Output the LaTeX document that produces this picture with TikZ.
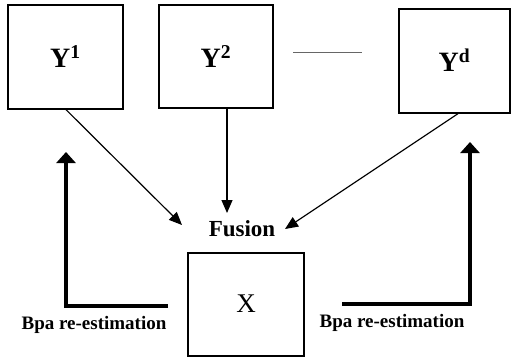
\documentclass[tikz,border=0pt]{standalone}
\usepackage{fontspec}
\setmainfont{Liberation Serif}
\usetikzlibrary{arrows.meta,calc}
\begin{document}
\begin{tikzpicture}[x=1pt,y=-1pt,
  boxnode/.style={draw,line width=1.3pt,inner sep=0pt},
  thinarrow/.style={line width=1.2pt,-{Triangle[length=13pt,width=11pt]}},
  thickarrow/.style={line width=4pt,-{Triangle[length=11pt,width=19pt]}},
  lbl/.style={font=\fontsize{19}{22}\selectfont\bfseries,inner sep=0pt}]
\useasboundingbox (0,0) rectangle (513,362);
\node[boxnode,minimum width=115pt,minimum height=104pt] (y1) at (65.5,57)
  {\fontsize{28}{32}\selectfont\bfseries Y$^{\mathbf{1}}$};
\node[boxnode,minimum width=114pt,minimum height=103pt] (y2) at (216,56.5)
  {\fontsize{28}{32}\selectfont\bfseries Y$^{\mathbf{2}}$};
\node[boxnode,minimum width=111pt,minimum height=104pt] (yd) at (454.5,61)
  {\raisebox{2pt}{\fontsize{28}{32}\selectfont\bfseries Y\textsuperscript{d}}};
\node[boxnode,minimum width=116pt,minimum height=103pt] (x) at (246,304.5)
  {\raisebox{2pt}{\fontsize{27}{32}\selectfont X}};
\node[font=\fontsize{23}{26}\selectfont\bfseries,inner sep=0pt] (fusion) at (242,229) {Fusion};
\coordinate (d1) at (293,52);
\coordinate (d2) at (362,52);
\draw[line width=0.8pt,gray!80!black] (d1) -- (d2);
\coordinate (f1) at (182,225);
\coordinate (f2) at (227,213);
\coordinate (f3) at (285,229);
\draw[thinarrow] ($(y1.south)+(0.5,0)$) -- (f1);
\draw[thinarrow] ($(y2.south)+(11,0)$) -- (f2);
\draw[thinarrow] ($(yd.south)+(3.5,0)$) -- (f3);
\coordinate (l0) at (168,306);
\coordinate (l1) at (66,306);
\coordinate (l2) at (66,152);
\draw[thickarrow] (l0) -- (l1) -- (l2);
\coordinate (r0) at (342,304);
\coordinate (r1) at (470,304);
\coordinate (r2) at (470,142);
\draw[thickarrow] (r0) -- (r1) -- (r2);
\node[lbl] (bl) at (94,325) {Bpa re-estimation};
\node[lbl] (br) at (392,323) {Bpa re-estimation};
\end{tikzpicture}
\end{document}
